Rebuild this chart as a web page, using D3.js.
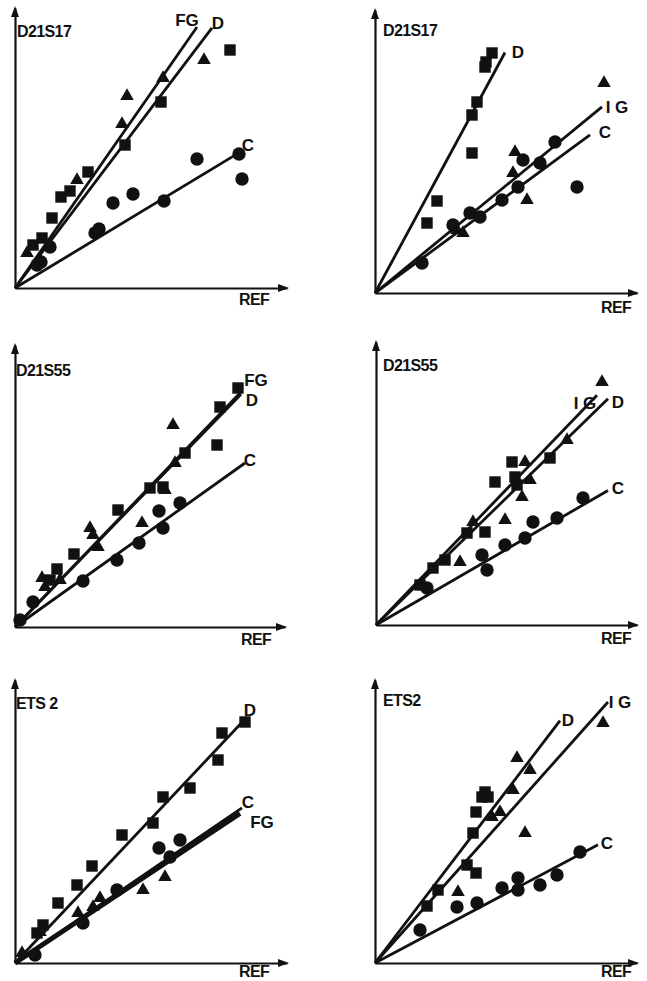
<!DOCTYPE html>
<html><head><meta charset="utf-8">
<script src="https://cdn.jsdelivr.net/npm/d3@7"></script>
<style>
html,body{margin:0;padding:0;background:#fff;}
svg{display:block;}
text{font-family:"Liberation Sans",Arial,sans-serif;font-weight:bold;fill:#111;}
</style></head><body>
<script>
// ---------- DATA (arbitrary units: REF on x, probe on y) ----------
const panelTitles = ["D21S17", "D21S17", "D21S55", "D21S55", "ETS 2", "ETS2"];
const xAxisLabel = "REF";

// Panel 1: D21S17 (left)
const p1_D  = [[215,238],[146,186],[110,143],[73,116],[55,97],[46,91],[37,70],[27,50],[18,43]];
const p1_FG = [[189,228],[148,210],[112,192],[107,164],[62,108],[12,35],[25,28]];
const p1_C  = [[224,134],[227,109],[182,129],[149,87],[118,94],[98,85],[84,59],[80,55],[35,41],[26,26],[22,23]];
const p1_lines = [{s:"FG", slope:1.434, end:182}, {s:"D", slope:1.32, end:197}, {s:"C", slope:0.604, end:225}];

// Panel 2: D21S17 (right)
const p2_D  = [[117,240],[111,231],[110,226],[102,191],[97,178],[97,140],[62,92],[52,70]];
const p2_IG = [[229,210],[140,141],[138,120],[152,93],[88,60],[82,63]];
const p2_C  = [[180,151],[165,130],[148,133],[143,106],[127,93],[105,76],[95,80],[78,68],[47,30],[202,106]];
const p2_lines = [{s:"D", slope:1.85, end:130}, {s:"IG", slope:0.82, end:227}, {s:"C", slope:0.735, end:215}];

// Panel 3: D21S55 (left)
const p3_D  = [[223,239],[205,220],[202,182],[170,174],[135,139],[148,140],[103,117],[59,73],[42,58],[35,47]];
const p3_FG = [[158,202],[160,164],[150,137],[127,104],[75,99],[78,92],[83,80],[27,49],[45,47],[30,40]];
const p3_C  = [[165,124],[144,116],[148,99],[124,84],[102,67],[68,46],[18,25],[5,7]];
const p3_lines = [{s:"FG", slope:1.04, end:226}, {s:"D", slope:1.03, end:226}, {s:"C", slope:0.713, end:230}];

// Panel 4: D21S55 (right)
const p4_D  = [[136,163],[119,143],[139,148],[141,140],[174,167],[109,93],[91,92],[69,65],[57,57],[44,40]];
const p4_IG = [[226,243],[149,163],[154,145],[146,128],[129,105],[97,103],[84,63],[191,185]];
const p4_C  = [[207,127],[181,107],[157,103],[149,87],[129,80],[106,70],[111,55],[51,37]];
const p4_lines = [{s:"IG", slope:1.04, end:221}, {s:"D", slope:0.975, end:232}, {s:"C", slope:0.58, end:232}];

// Panel 5: ETS 2 (left)
const p5_D  = [[230,241],[207,230],[203,203],[175,175],[148,166],[138,140],[107,128],[77,97],[62,78],[43,60],[28,38],[22,30]];
const p5_FG = [[150,86],[128,73],[85,65],[78,56],[63,50],[25,31],[7,10]];
const p5_C  = [[165,123],[144,115],[155,106],[102,73],[68,40],[20,8]];
const p5_lines = [{s:"D", slope:1.06, end:232}, {s:"C", slope:0.683, end:227}, {s:"FG", slope:0.665, end:225}];

// Panel 6: ETS2 (right)
const p6_D  = [[110,171],[113,166],[107,166],[101,151],[98,130],[92,98],[101,90],[63,73],[52,57]];
const p6_IG = [[228,240],[142,205],[155,193],[138,173],[125,151],[117,146],[150,130],[83,71]];
const p6_C  = [[205,111],[182,88],[165,78],[143,85],[143,73],[127,75],[102,60],[82,56],[45,33]];
const p6_lines = [{s:"D", slope:1.31, end:185}, {s:"IG", slope:1.12, end:233}, {s:"C", slope:0.53, end:223}];

// ---------- LAYOUT ----------
const W = 647, H = 981;
const layout = [
  {ox:15,  oy:288, xl:272, yl:280, title:[17,37],  ref:[239,305]},
  {ox:375, oy:293, xl:262, yl:283, title:[383,36], ref:[601,313]},
  {ox:15,  oy:627, xl:270, yl:282, title:[16,376], ref:[241,645]},
  {ox:376, oy:625, xl:261, yl:283, title:[383,371],ref:[601,644]},
  {ox:15,  oy:963, xl:272, yl:283, title:[16,709], ref:[239,977]},
  {ox:375, oy:963, xl:262, yl:283, title:[383,706],ref:[601,977]}
];
const panels = [
  {series:{D:p1_D, FG:p1_FG, C:p1_C}, lines:p1_lines,
   labels:{FG:[187,26], D:[218,29], C:[248,151]}},
  {series:{D:p2_D, IG:p2_IG, C:p2_C}, lines:p2_lines,
   labels:{D:[518,58], IG:[617,113], C:[605,138]}},
  {series:{D:p3_D, FG:p3_FG, C:p3_C}, lines:p3_lines,
   labels:{FG:[256,386], D:[252,406], C:[250,466]}},
  {series:{D:p4_D, IG:p4_IG, C:p4_C}, lines:p4_lines,
   labels:{IG:[585,409], D:[618,408], C:[618,494]}},
  {series:{D:p5_D, FG:p5_FG, C:p5_C}, lines:p5_lines,
   labels:{D:[250,716], C:[248,808], FG:[262,828]}},
  {series:{D:p6_D, IG:p6_IG, C:p6_C}, lines:p6_lines,
   labels:{D:[568,726], IG:[620,708], C:[607,849]}}
];
const symbolOf = {D:d3.symbolSquare, FG:d3.symbolTriangle, IG:d3.symbolTriangle, C:d3.symbolCircle};
const sizeOf = {D:130, FG:80, IG:80, C:140};

const svg = d3.select("body").append("svg").attr("width", W).attr("height", H);

panels.forEach((p, i) => {
  const L = layout[i];
  const x = d3.scaleLinear().domain([0, L.xl]).range([L.ox, L.ox + L.xl]);
  const y = d3.scaleLinear().domain([0, L.yl]).range([L.oy, L.oy - L.yl]);
  const g = svg.append("g");

  // axes (domain lines only)
  g.append("g").attr("transform", `translate(0,${L.oy})`)
    .call(d3.axisBottom(x).tickValues([]).tickSizeOuter(0));
  g.append("g").attr("transform", `translate(${L.ox},0)`)
    .call(d3.axisLeft(y).tickValues([]).tickSizeOuter(0));
  g.selectAll(".domain").attr("stroke", "#111").attr("stroke-width", 2.2);

  // arrowheads
  const xe = x(L.xl), ye = y(L.yl);
  g.append("path").attr("d", `M${xe+2},${L.oy} L${xe-9},${L.oy-4} L${xe-9},${L.oy+4}Z`).attr("fill", "#111");
  g.append("path").attr("d", `M${L.ox},${ye-2} L${L.ox-4},${ye+9} L${L.ox+4},${ye+9}Z`).attr("fill", "#111");

  // regression lines
  p.lines.forEach(l => {
    g.append("line")
      .attr("x1", x(0)).attr("y1", y(0))
      .attr("x2", x(l.end)).attr("y2", y(l.slope * l.end))
      .attr("stroke", "#111")
      .attr("stroke-width", (i === 4 && l.s === "FG") ? 5 : 2.8);
  });

  // points
  Object.entries(p.series).forEach(([k, pts]) => {
    g.selectAll(null).data(pts).enter().append("path")
      .attr("d", d3.symbol().type(symbolOf[k]).size(sizeOf[k]))
      .attr("transform", d => `translate(${x(d[0])},${y(d[1])})`)
      .attr("fill", "#111");
  });

  // line labels
  Object.entries(p.labels).forEach(([k, pos]) => {
    g.append("text").attr("x", pos[0]).attr("y", pos[1])
      .attr("text-anchor", "middle").attr("font-size", 17)
      .text(k === "IG" ? "I G" : k);
  });

  // titles
  g.append("text").attr("x", L.title[0]).attr("y", L.title[1])
    .attr("font-size", 16).attr("letter-spacing", -0.6).text(panelTitles[i]);
  g.append("text").attr("x", L.ref[0]).attr("y", L.ref[1])
    .attr("font-size", 16).attr("letter-spacing", -0.6).text(xAxisLabel);
});
</script>
</body></html>
